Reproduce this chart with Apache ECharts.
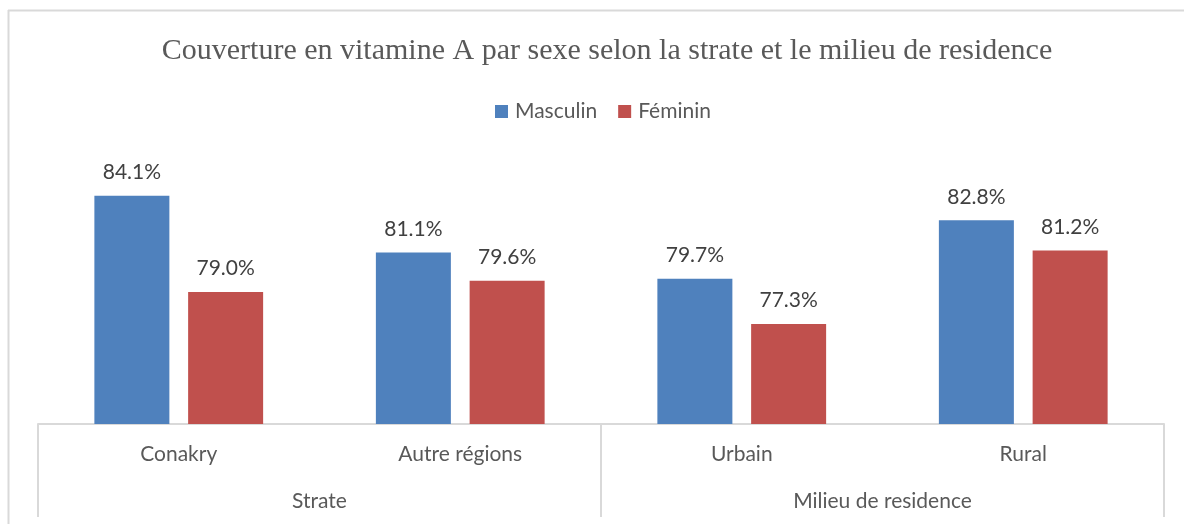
<!DOCTYPE html>
<html>
<head>
<meta charset="utf-8">
<script src="https://cdn.jsdelivr.net/npm/echarts@6/dist/echarts.min.js"></script>
<style>
  html, body { margin: 0; padding: 0; background: #fff; }
  #main { width: 1184px; height: 524px; }
</style>
</head>
<body>
<div id="main"></div>
<script>
// categories (two levels)
var categories = ['Conakry', 'Autre régions', 'Urbain', 'Rural'];
var groups = ['Strate', 'Milieu de residence'];
// series values (%)
var masculin = [84.1, 81.1, 79.7, 82.8];
var feminin = [79.0, 79.6, 77.3, 81.2];

var chart = echarts.init(document.getElementById('main'));
var labelFont = 'Lato, "Open Sans", sans-serif';

chart.setOption({
  animation: false,
  title: {
    text: 'Couverture en vitamine A par sexe selon la strate et le milieu de residence',
    left: 602,
    top: 31,
    textAlign: 'center',
    textStyle: {
      fontFamily: '"Liberation Serif", "DejaVu Serif", serif',
      fontWeight: 'normal',
      fontSize: 30,
      color: '#595959'
    }
  },
  legend: {
    data: ['Masculin', 'Féminin'],
    left: 490,
    top: 96,
    icon: 'rect',
    itemWidth: 13,
    itemHeight: 13,
    itemGap: 21,
    textStyle: { fontFamily: labelFont, fontSize: 21, color: '#595959', padding: [0, 0, 0, 2] }
  },
  // outer chart frame
  graphic: [
    { type: 'line', shape: { x1: 8, y1: 10.5, x2: 1184, y2: 10.5 }, style: { stroke: '#d9d9d9', lineWidth: 2 } },
    { type: 'line', shape: { x1: 8.5, y1: 10, x2: 8.5, y2: 524 }, style: { stroke: '#d9d9d9', lineWidth: 2 } }
  ],
  grid: { left: 38, right: 20, top: 160, bottom: 100 },
  xAxis: [
    {
      type: 'category',
      data: categories,
      position: 'bottom',
      axisLine: { lineStyle: { color: '#d9d9d9', width: 2 } },
      axisTick: { show: false },
      axisLabel: { margin: 20, fontFamily: labelFont, fontSize: 21, color: '#595959' }
    },
    {
      type: 'category',
      data: groups,
      position: 'bottom',
      axisLine: { show: false },
      axisTick: { show: true, length: 93, lineStyle: { color: '#d9d9d9', width: 2 } },
      axisLabel: { margin: 67, fontFamily: labelFont, fontSize: 21, color: '#595959' }
    }
  ],
  yAxis: {
    type: 'value',
    min: 72,
    max: 86,
    interval: 2,
    show: false
  },
  series: [
    {
      name: 'Masculin',
      type: 'bar',
      xAxisIndex: 0,
      data: masculin,
      barWidth: 75,
      barGap: '25%',
      itemStyle: { color: '#4f81bd' },
      label: {
        show: true, position: 'top', distance: 13,
        formatter: function (p) { return p.value.toFixed(1) + '%'; },
        fontFamily: labelFont, fontSize: 21, color: '#404040'
      }
    },
    {
      name: 'Féminin',
      type: 'bar',
      xAxisIndex: 0,
      data: feminin,
      barWidth: 75,
      itemStyle: { color: '#c0504d' },
      label: {
        show: true, position: 'top', distance: 13,
        formatter: function (p) { return p.value.toFixed(1) + '%'; },
        fontFamily: labelFont, fontSize: 21, color: '#404040'
      }
    }
  ]
});
</script>
</body>
</html>
